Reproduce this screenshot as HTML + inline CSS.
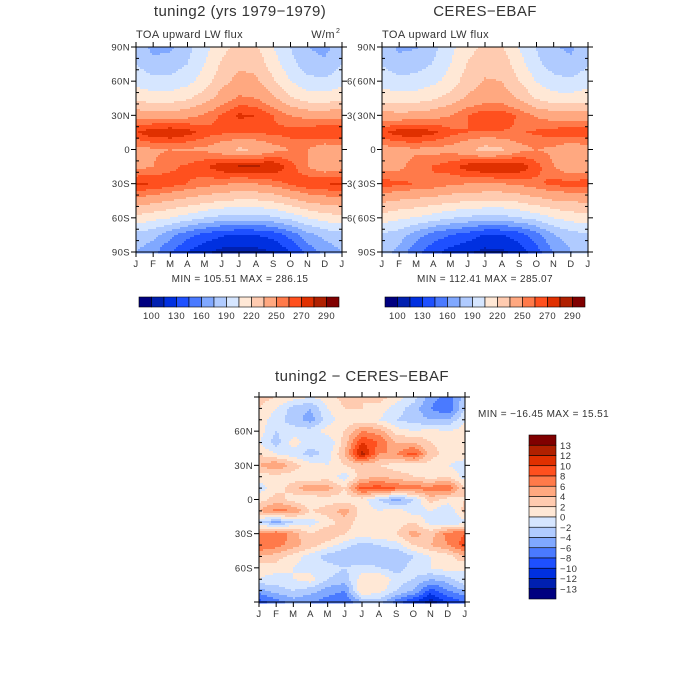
<!DOCTYPE html>
<html><head><meta charset="utf-8"><style>
body{margin:0;background:#fff;}
svg{display:block;font-family:"Liberation Sans",sans-serif;}
text{fill:#333;letter-spacing:0.4px;}
</style></head><body>
<svg id="c" width="700" height="700"></svg>
<script>
const NS="http://www.w3.org/2000/svg";
const svg=document.getElementById('c');
const months=["J","F","M","A","M","J","J","A","S","O","N","D","J"];
const lats13=[90,75,60,45,30,15,0,-15,-30,-45,-60,-75,-90];
const model=[
[185,170,172,185,200,215,225,222,205,190,175,170,185],
[190,180,182,190,205,222,232,230,212,195,182,178,190],
[200,195,195,200,212,230,240,238,222,205,195,193,200],
[215,212,212,218,228,242,252,250,238,222,213,212,215],
[245,242,242,245,252,262,272,270,260,250,245,245,245],
[270,278,280,275,265,262,262,262,262,265,268,270,270],
[245,248,250,248,248,240,232,235,245,250,250,240,245],
[245,250,258,262,268,278,282,282,280,265,250,240,245],
[272,270,265,260,255,252,248,250,255,262,268,270,272],
[245,240,235,230,225,220,218,218,222,230,238,242,245],
[215,210,205,198,190,185,183,183,187,195,205,212,215],
[185,180,165,150,140,132,128,130,135,150,170,180,185],
[175,165,145,130,118,110,108,110,115,130,150,165,175]];
const obs=[
[183,172,174,186,201,214,224,221,204,189,176,172,183],
[189,181,183,191,205,221,231,229,211,194,183,179,189],
[199,195,196,201,211,228,236,235,220,204,195,193,199],
[213,212,213,218,226,238,242,242,234,218,211,211,213],
[242,240,241,244,250,260,268,267,258,248,243,243,242],
[268,276,278,273,263,260,259,259,259,262,265,268,268],
[244,246,248,245,246,238,228,233,245,250,247,238,244],
[243,247,255,261,266,276,281,281,279,264,250,240,243],
[266,262,260,258,252,250,249,250,253,257,264,264,266],
[238,234,231,228,224,221,220,219,223,229,234,236,238],
[213,208,204,198,191,187,184,185,189,196,205,211,213],
[188,182,167,153,145,138,128,129,137,154,174,184,188],
[182,170,149,135,124,117,111,112,121,139,160,174,182]];
const lats19=[90,80,70,60,50,40,30,20,10,0,-10,-20,-30,-40,-50,-60,-70,-80,-90];
const diff=[
[3,2,1,0,1,3,2,3,1,-1,-5,-7,-3],
[2,0,-3,-4,0,2,2,1,-1,-3,-6,-8,-2],
[1,-1,-3,-5,-1,1,1,0,-2,-3,-4,-4,0],
[1,-2,-1,-1,1,2,6,5,1,0,1,0,1],
[0,-3,1,-1,-2,3,10,8,4,4,2,1,0],
[2,0,-1,-3,-1,4,13,6,6,9,3,1,1],
[4,6,3,1,0,2,3,2,1,1,1,0,-1],
[1,1,1,0,1,-1,3,4,3,2,1,2,-1],
[-1,1,3,6,5,2,9,9,8,7,7,8,2],
[1,3,1,0,1,1,1,-2,-5,-2,3,1,2],
[4,7,6,2,3,5,1,0,1,-1,0,-2,3],
[-2,-5,-2,-1,1,3,1,1,1,2,-1,-2,-1],
[6,8,5,2,4,2,1,2,2,5,3,7,8],
[8,7,5,3,1,-1,-3,-2,-1,2,4,6,9],
[4,3,1,-1,-3,-4,-4,-3,-4,-2,0,1,4],
[1,1,0,-1,-1,-2,-1,-2,-3,-1,0,1,0],
[0,-1,0,1,-2,-3,1,2,-1,-2,-4,-3,0],
[-5,-3,-2,-3,-5,-6,2,1,-2,-4,-9,-6,-4],
[-9,-7,-5,-6,-7,-8,-4,-3,-7,-10,-13,-10,-8]];
const fluxBounds=[100,115,130,145,160,175,190,205,220,235,250,260,270,280,290];
const fluxLabels=["100","130","160","190","220","250","270","290"];
const diffBounds=[-13,-12,-10,-8,-6,-4,-2,0,2,4,6,8,10,12,13];
const diffLabels=["-13","-12","-10","-8","-6","-4","-2","0","2","4","6","8","10","12","13"];
const colors=["#000080","#0020b0","#0030e0","#1e50ff","#4a7aff","#80a8ff","#b0cbff","#d6e6ff","#ffe8d6","#ffcbb0","#ffa880","#ff7a4a","#ff501e","#e03000","#b02000","#800000"];

function el(tag,attrs,parent){const e=document.createElementNS(NS,tag);for(const k in attrs)e.setAttribute(k,attrs[k]);(parent||svg).appendChild(e);return e;}
function txt(x,y,s,size,anchor,parent){const t=el('text',{x:x,y:y,'font-size':size,'text-anchor':anchor||'start'},parent);t.textContent=s;return t;}
function level(v,b){let i=0;while(i<b.length&&v>=b[i])i++;return i;}
function sample(grid,lats,lat,m){
  let r=0;while(r<lats.length-2&&lat<lats[r+1])r++;
  const fr=(lats[r]-lat)/(lats[r]-lats[r+1]);
  let c=Math.min(Math.floor(m),grid[0].length-2);const fc=m-c;
  const a=grid[r][c]*(1-fc)+grid[r][c+1]*fc;
  const b=grid[r+1][c]*(1-fc)+grid[r+1][c+1]*fc;
  return a*(1-fr)+b*fr;
}
function panel(name,grid,lats,x0,y0,w,h,bounds,yticks){
  const g=el('g',{},svg);
  
  
  const xs=m=>x0+m/12*w, ys=l=>y0+(90-l)/180*h;
  const s=2;
  for(let py=0;py<h;py+=s){
    const lat=90-(py+s/2)/h*180;
    let runStart=0,runLev=-1;
    for(let px=0;px<=w;px+=s){
      let lev=-1;
      if(px<w){const m=(px+s/2)/w*12;lev=level(sample(grid,lats,lat,m),bounds);}
      if(lev!==runLev){
        if(runLev>=0){
          const r=el('rect',{x:x0+runStart,y:y0+py,width:px-runStart+0.5,height:s+0.5,fill:colors[runLev]},g);
          
          
        }
        runStart=px;runLev=lev;
      }
    }
  }
  const ax=el('g',{stroke:'#000','stroke-width':1,fill:'none'},svg);
  
  
  el('rect',{x:x0,y:y0,width:w,height:h},ax);
  for(let m=0;m<=12;m++){const x=xs(m);
    el('line',{x1:x,y1:y0+h,x2:x,y2:y0+h+5},ax);el('line',{x1:x,y1:y0,x2:x,y2:y0-5},ax);
    const t=txt(x,y0+h+15,months[m],9.5,'middle');
    }
  for(let l=-90;l<=90;l+=10){const y=ys(l);
    if(l%30===0){el('line',{x1:x0-5,y1:y,x2:x0,y2:y},ax);el('line',{x1:x0+w,y1:y,x2:x0+w+5,y2:y},ax);}
    else{el('line',{x1:x0,y1:y,x2:x0+3,y2:y},ax);el('line',{x1:x0+w-3,y1:y,x2:x0+w,y2:y},ax);}}
  yticks.forEach(l=>{const s=l===0?"0":(Math.abs(l)+(l>0?"N":"S"));
    const t=txt(x0-6,ys(l)+3.5,s,9.5,'end');
    });
}
function hbar(name,x0,y0,w,h){
  const g=el('g',{},svg);
  
  
  const bw=w/16;
  colors.forEach((c,i)=>{const r=el('rect',{x:x0+i*bw,y:y0,width:bw,height:h,fill:c,stroke:'#000','stroke-width':0.6},g);
    });
  fluxLabels.forEach((s,k)=>{const i=k<6?k*2:10+(k-5)*2;
    const t=txt(x0+(i+1)*bw,y0+h+12,s,9.5,'middle',g);
    });
}
const full=[90,60,30,0,-30,-60,-90];
panel('model-panel',model,lats13,136,47,206,205,fluxBounds,full);
panel('obs-panel',obs,lats13,382,47,206,205,fluxBounds,full);
panel('diff-panel',diff,lats19,259,397,206,205,diffBounds,[60,30,0,-30,-60]);
[[60,"6("],[30,"3("],[-30,"3("],[-60,"6("]].forEach(([l,s])=>{const t=txt(347,47+(90-l)/180*205+3.5,s,9.5);});
hbar('model-colorbar',139,297,200,10);
hbar('obs-colorbar',385,297,200,10);
const vb=el('g',{},svg);


const bh=164/16;
colors.slice().reverse().forEach((c,i)=>{const r=el('rect',{x:529,y:435+i*bh,width:27,height:bh,fill:c,stroke:'#000','stroke-width':0.6},vb);
  });
diffLabels.slice().reverse().forEach((s,i)=>{const t=txt(560,435+(i+1)*bh+3.5,s.replace('-','−'),9.5,'start',vb);
  });
function label(x,y,s,size,anchor,name){const t=txt(x,y,s,size,anchor);return t;}
label(240,16,"tuning2 (yrs 1979−1979)",15,'middle','model-title');
label(136,38,"TOA upward LW flux",11,'start','model-subtitle');
label(335,38,"W/m",11,'end','units-label');
label(336,33,"2",7,'start','units-exponent');
label(485,16,"CERES−EBAF",15,'middle','obs-title');
label(382,38,"TOA upward LW flux",11,'start','obs-subtitle');
label(240,282,"MIN = 105.51 MAX = 286.15",10,'middle','model-minmax');
label(485,282,"MIN = 112.41 MAX = 285.07",10,'middle','obs-minmax');
label(362,381,"tuning2 − CERES−EBAF",15,'middle','diff-title');
label(478,417,"MIN = −16.45 MAX =  15.51",10,'start','diff-minmax');
</script>
</body></html>
